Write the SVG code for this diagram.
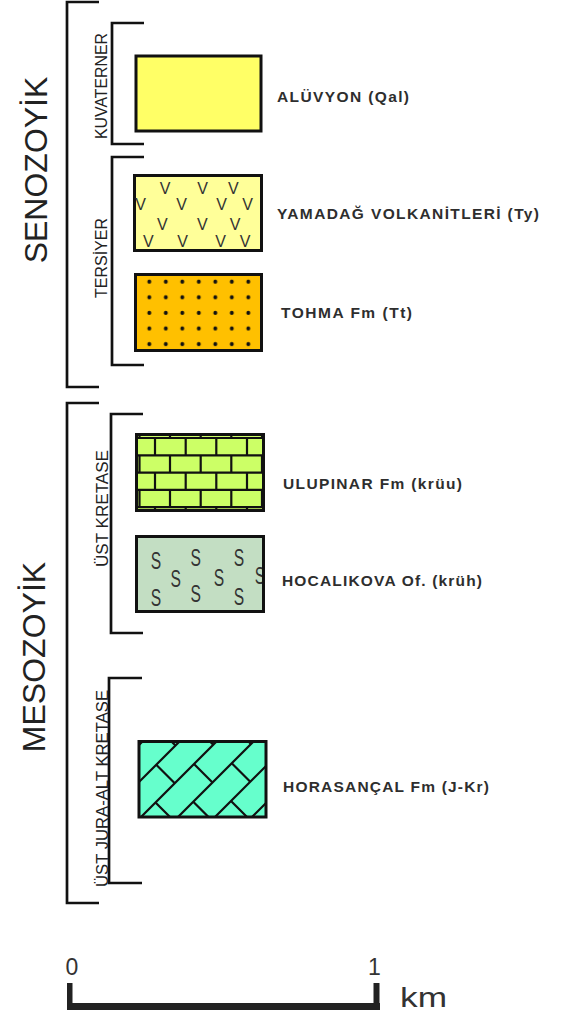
<svg xmlns="http://www.w3.org/2000/svg" width="561" height="1015" viewBox="0 0 561 1015">
<style>
.br{fill:none;stroke:#111;stroke-width:2.7}
.box{stroke:#111;stroke-width:3}
.lbl{font-family:"Liberation Sans",Arial,sans-serif;font-weight:bold;font-size:15.5px;fill:#2e2e2e}
.era{font-family:"Liberation Sans",Arial,sans-serif;font-size:32px;fill:#222}
.per{font-family:"Liberation Sans",Arial,sans-serif;font-size:16px;fill:#222}
.v{font-family:"Liberation Sans",Arial,sans-serif;font-size:16px;fill:#333;text-anchor:middle}
.s{font-family:"Liberation Sans",Arial,sans-serif;font-size:23px;fill:#333;text-anchor:middle}
.ln{stroke:#111;stroke-width:2.2;fill:none}
.sc{font-family:"Liberation Sans",Arial,sans-serif;fill:#333}
</style>
<defs>
<pattern id="dots" patternUnits="userSpaceOnUse" x="141" y="274" width="16.5" height="15.6">
<circle cx="8.3" cy="7.7" r="2" fill="#111"/>
</pattern>
<clipPath id="cU"><rect x="136.5" y="434.5" width="127" height="76"/></clipPath>
<clipPath id="cH"><rect x="136.5" y="536.5" width="127" height="75"/></clipPath>
<clipPath id="cR"><rect x="139" y="741.5" width="127" height="75.5"/></clipPath>
</defs>

<g id="era-senozoyik">
<path class="br" d="M99,2 H67 V387 H99"/>
<text class="era" text-anchor="middle" transform="translate(47,170) rotate(-90)">SENOZOYİK</text>
</g>
<g id="era-mesozoyik">
<path class="br" d="M99,403 H67 V903 H99"/>
<text class="era" text-anchor="middle" transform="translate(45,657) rotate(-90)">MESOZOYİK</text>
</g>

<g id="per-kuvaterner">
<path class="br" d="M144,23 H112 V144 H144"/>
<text class="per" text-anchor="middle" textLength="106" lengthAdjust="spacingAndGlyphs" transform="translate(106.5,86) rotate(-90)">KUVATERNER</text>
</g>
<g id="per-tersiyer">
<path class="br" d="M144,157 H112 V365 H144"/>
<text class="per" text-anchor="middle" transform="translate(106.5,258) rotate(-90)">TERSİYER</text>
</g>
<g id="per-ust-kretase">
<path class="br" d="M143,414 H111 V633 H143"/>
<text class="per" text-anchor="middle" textLength="117" lengthAdjust="spacingAndGlyphs" transform="translate(108,508.5) rotate(-90)">ÜST KRETASE</text>
</g>
<g id="per-jura">
<path class="br" d="M142,678 H109 V883 H142"/>
<text class="per" text-anchor="middle" textLength="197" lengthAdjust="spacingAndGlyphs" transform="translate(108,788.5) rotate(-90)">ÜST JURA-ALT KRETASE</text>
</g>

<g id="unit-qal">
<rect class="box" x="136" y="56" width="125" height="75" fill="#FFFF66"/>
<text class="lbl" x="277" y="102" textLength="132" lengthAdjust="spacing">ALÜVYON (Qal)</text>
</g>

<g id="unit-ty">
<rect class="box" x="134.5" y="175.5" width="127" height="75" fill="#FFFF99" stroke-width="2.5"/>
<text class="v" x="165" y="194">V</text><text class="v" x="202.7" y="194">V</text><text class="v" x="233.3" y="194">V</text>
<text class="v" x="140.5" y="210">V</text><text class="v" x="181.7" y="210">V</text><text class="v" x="221.7" y="210">V</text><text class="v" x="247.7" y="210">V</text>
<text class="v" x="162.3" y="230">V</text><text class="v" x="202.3" y="230">V</text><text class="v" x="235" y="230">V</text>
<text class="v" x="148.3" y="247">V</text><text class="v" x="182.7" y="247">V</text><text class="v" x="220.7" y="247">V</text><text class="v" x="245" y="247">V</text>
<text class="lbl" x="277" y="219" textLength="262" lengthAdjust="spacing">YAMADAĞ VOLKANİTLERİ (Ty)</text>
</g>

<g id="unit-tt">
<rect x="135.5" y="274.5" width="126" height="76" fill="#FFC000"/>
<rect class="box" x="135.5" y="274.5" width="126" height="76" fill="url(#dots)"/>
<text class="lbl" x="281" y="318" textLength="131" lengthAdjust="spacing">TOHMA Fm (Tt)</text>
</g>

<g id="unit-kruu">
<rect x="136.5" y="434.5" width="127" height="76" fill="#CCFF66"/>
<g clip-path="url(#cU)">
<path class="ln" d="M130,438 H270 M130,455.3 H270 M130,472.6 H270 M130,489.9 H270 M130,507.2 H270"/>
<path class="ln" d="M139.5,430 V438 M170,430 V438 M200.7,430 V438 M231.3,430 V438 M262,430 V438
M155,438 V455.3 M185.7,438 V455.3 M216.3,438 V455.3 M247,438 V455.3
M139.5,455.3 V472.6 M170,455.3 V472.6 M200.7,455.3 V472.6 M231.3,455.3 V472.6 M262,455.3 V472.6
M155,472.6 V489.9 M185.7,472.6 V489.9 M216.3,472.6 V489.9 M247,472.6 V489.9
M139.5,489.9 V507.2 M170,489.9 V507.2 M200.7,489.9 V507.2 M231.3,489.9 V507.2 M262,489.9 V507.2
M155,507.2 V515 M185.7,507.2 V515 M216.3,507.2 V515 M247,507.2 V515"/>
</g>
<rect class="box" x="136.5" y="434.5" width="127" height="76" fill="none"/>
<text class="lbl" x="283" y="489" textLength="179" lengthAdjust="spacing">ULUPINAR Fm (krüu)</text>
</g>

<g id="unit-kruh">
<rect x="136.5" y="536.5" width="127" height="75" fill="#C3DEC3"/>
<g clip-path="url(#cH)">
<text class="s" transform="translate(156,568.5) scale(0.68,1)">S</text>
<text class="s" transform="translate(156,605.5) scale(0.68,1)">S</text>
<text class="s" transform="translate(175.7,587) scale(0.68,1)">S</text>
<text class="s" transform="translate(195.7,566) scale(0.68,1)">S</text>
<text class="s" transform="translate(195.7,602) scale(0.68,1)">S</text>
<text class="s" transform="translate(219,585.5) scale(0.68,1)">S</text>
<text class="s" transform="translate(239,566) scale(0.68,1)">S</text>
<text class="s" transform="translate(239,604.5) scale(0.68,1)">S</text>
<text class="s" transform="translate(260,583.5) scale(0.68,1)">S</text>
</g>
<rect class="box" x="136.5" y="536.5" width="127" height="75" fill="none"/>
<text class="lbl" x="282" y="586" textLength="200" lengthAdjust="spacing">HOCALIKOVA Of. (krüh)</text>
</g>

<g id="unit-jkr">
<rect x="139" y="741.5" width="127" height="75.5" fill="#66FFCC"/>
<g clip-path="url(#cR)">
<path class="ln" stroke-width="2.5" d="M130,754 L275,609 M130,791 L275,646 M130,828 L275,683 M130,865 L275,720 M130,902 L275,757 M130,939 L275,794"/>
<path class="ln" stroke-width="2.5" d="M157,727 L175.5,745.5
M156.25,764.75 L174.75,783.25 M194.75,726.25 L213.25,744.75
M155.5,802.5 L174,821 M194,764 L212.5,782.5 M232.5,725.5 L251,744
M193.25,801.75 L211.75,820.25 M231.75,763.25 L250.25,781.75
M231,801 L249.5,819.5"/>
</g>
<rect class="box" x="139" y="741.5" width="127" height="75.5" fill="none"/>
<text class="lbl" x="283" y="792" textLength="206" lengthAdjust="spacing">HORASANÇAL Fm (J-Kr)</text>
</g>

<g id="scale">
<rect x="67" y="1003" width="313" height="7" fill="#222"/>
<rect x="67" y="983" width="5.5" height="27" fill="#222"/>
<rect x="373.5" y="983" width="6" height="27" fill="#222"/>
<text class="sc" x="65.5" y="975" font-size="23">0</text>
<text class="sc" x="368" y="975" font-size="23">1</text>
<text class="sc" x="400" y="1007" font-size="28" textLength="47" lengthAdjust="spacingAndGlyphs">km</text>
</g>
</svg>
